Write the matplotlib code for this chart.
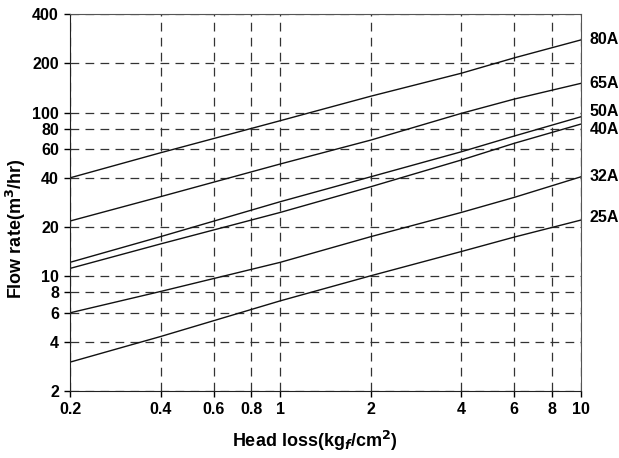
import matplotlib.pyplot as plt
from matplotlib.ticker import FixedLocator, FixedFormatter, NullLocator

plt.rcParams['font.family'] = ['Liberation Sans', 'DejaVu Sans']
plt.rcParams['font.weight'] = 'bold'

# head loss points (kgf/cm2) where each curve was read
h = [0.2, 0.4, 1, 2, 4, 6, 10]

# flow rate (m3/hr) per pipe size
q80 = [40, 56.9, 89.3, 126, 174, 216, 278]
q65 = [21.8, 30.7, 48.6, 68, 99, 121, 151]
q50 = [12.2, 17.5, 28.6, 40.6, 57.7, 72, 94.4]
q40 = [11.2, 15.8, 24.6, 35.3, 51.4, 65, 85.2]
q32 = [6, 8.1, 12.2, 17.5, 24.6, 30.4, 40.6]
q25 = [3.0, 4.3, 7.1, 10.1, 14.2, 17.4, 22.1]

names = ['80A', '65A', '50A', '40A', '32A', '25A']
series = [q80, q65, q50, q40, q32, q25]
label_shift = [0, 0, 4, -4, 0, 2]   # points, to keep 50A/40A apart

xticks = [0.2, 0.4, 0.6, 0.8, 1, 2, 4, 6, 8, 10]
xlabels = ['0.2', '0.4', '0.6', '0.8', '1', '2', '4', '6', '8', '10']
yticks = [2, 4, 6, 8, 10, 20, 40, 60, 80, 100, 200, 400]

fig = plt.figure(figsize=(6.19, 4.58), dpi=100)
ax = fig.add_axes([0.1131, 0.1463, 0.8255, 0.8231])

for name, q, dy in zip(names, series, label_shift):
    ax.plot(h, q, color='#111111', lw=1.0)
    ax.annotate(name, xy=(10, q[-1]), xytext=(6, dy), textcoords='offset points',
                ha='left', va='center', fontsize=11.5, fontweight='bold',
                annotation_clip=False)

ax.set_xscale('log')
ax.set_yscale('log')
ax.set_xlim(0.2, 10)
ax.set_ylim(2, 400)

ax.xaxis.set_major_locator(FixedLocator(xticks))
ax.xaxis.set_major_formatter(FixedFormatter(xlabels))
ax.xaxis.set_minor_locator(NullLocator())
ax.yaxis.set_major_locator(FixedLocator(yticks))
ax.yaxis.set_major_formatter(FixedFormatter([str(v) for v in yticks]))
ax.yaxis.set_minor_locator(NullLocator())

ax.grid(True, which='major', color='#333333', linestyle=(0, (7, 5)), lw=0.9)
ax.tick_params(direction='out', length=4, width=1, labelsize=11.5, pad=4)
for lbl in ax.get_xticklabels() + ax.get_yticklabels():
    lbl.set_fontweight('bold')

for s in ['left', 'bottom']:
    ax.spines[s].set_color('#222222')
for s in ['top', 'right']:
    ax.spines[s].set_color('#555555')

ax.set_xlabel('Head loss(kg$_f$/cm$^2$)', fontsize=13, fontweight='bold')
ax.set_ylabel('Flow rate(m$^3$/hr)', fontsize=13, fontweight='bold')
ax.xaxis.set_label_coords(0.48, -0.10)
ax.yaxis.set_label_coords(-0.082, 0.43)

plt.savefig('out.png', dpi=100)
